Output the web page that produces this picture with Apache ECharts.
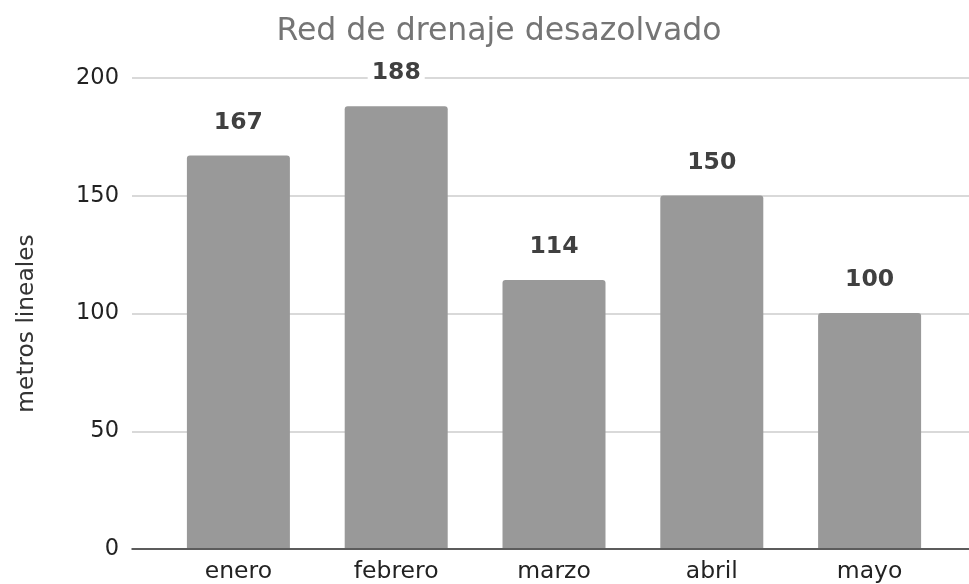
<!DOCTYPE html>
<html>
<head>
<meta charset="utf-8">
<script src="https://cdn.jsdelivr.net/npm/echarts@6/dist/echarts.min.js"></script>
<style>html,body{margin:0;padding:0;background:#fff;}#c{width:969px;height:584px;}</style>
</head>
<body>
<div id="c"></div>
<script>
const titleText = 'Red de drenaje desazolvado';
const yAxisName = 'metros lineales';
const categories = ['enero', 'febrero', 'marzo', 'abril', 'mayo'];
const values = [167, 188, 114, 150, 100];
const yMin = 0, yMax = 200, yStep = 50;

const FONT = 'DejaVu Sans';
const chart = echarts.init(document.getElementById('c'), null, {renderer: 'canvas'});
chart.setOption({
  animation: false,
  backgroundColor: '#fff',
  textStyle: {fontFamily: FONT},
  title: {
    text: titleText,
    left: 494, top: 11, textAlign: 'center',
    textStyle: {fontFamily: FONT, fontSize: 31.5, fontWeight: 'normal', color: '#757575'}
  },
  grid: [
    {left: 132, right: 0, top: 78, bottom: 35},
    {left: 159.5, right: 20.5, top: 78, bottom: 35}
  ],
  xAxis: [
    {type: 'value', gridIndex: 0, min: 0, max: 1, z: 10,
     axisLine: {show: true, lineStyle: {color: '#333', width: 1.5}},
     axisTick: {show: false}, axisLabel: {show: false}, splitLine: {show: false}},
    {type: 'category', gridIndex: 1, data: categories,
     axisLine: {show: false}, axisTick: {show: false},
     axisLabel: {fontFamily: FONT, fontSize: 23.5, color: '#222', margin: 12}}
  ],
  yAxis: [
    {type: 'value', gridIndex: 0, min: yMin, max: yMax, interval: yStep,
     name: yAxisName, nameLocation: 'middle', nameGap: 94, nameRotate: 90,
     nameTextStyle: {fontFamily: FONT, fontSize: 23.3, color: '#333', padding: [0, 20, 0, 0]},
     axisLine: {show: false}, axisTick: {show: false},
     axisLabel: {fontFamily: FONT, fontSize: 22.5, color: '#222', margin: 13},
     splitLine: {lineStyle: {color: '#cccccc', width: 1.5}}},
    {type: 'value', gridIndex: 1, min: yMin, max: yMax, interval: yStep, show: false,
     splitLine: {show: false}}
  ],
  series: [{
    type: 'bar',
    xAxisIndex: 1, yAxisIndex: 1,
    data: values,
    barWidth: 103,
    itemStyle: {color: '#999999', borderRadius: [3, 3, 0, 0]},
    label: {
      show: true, position: 'top', distance: 21,
      fontFamily: FONT, fontSize: 23.5, fontWeight: 'bold', color: '#404040',
      backgroundColor: '#fff', padding: [0, 4]
    }
  }]
});
</script>
</body>
</html>
